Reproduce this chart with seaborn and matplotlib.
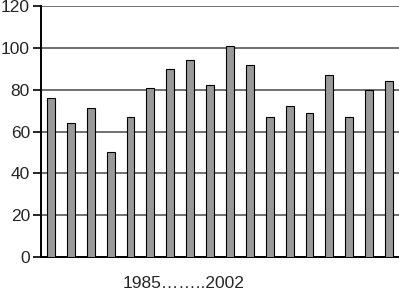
import matplotlib
matplotlib.use("Agg")
import matplotlib.pyplot as plt
import seaborn as sns
import pandas as pd

years = list(range(1985, 2003))
values = [76, 64, 71, 50, 67, 81, 90, 94, 82, 101, 92, 67, 72, 69, 87, 67, 80, 84]
yticks = [0, 20, 40, 60, 80, 100, 120]
xlabel_text = "1985……..2002"

sns.set_style("white")
plt.rcParams['font.family'] = ['Liberation Sans', 'DejaVu Sans']

df = pd.DataFrame({"year": years, "value": values})

fig = plt.figure(figsize=(3.99, 2.90), dpi=100)
ax = fig.add_axes([41/399, 1 - 257/290, 1 - 41/399, (257 - 6)/290])

sns.barplot(data=df, x="year", y="value", color="#999999", saturation=1,
            width=0.4, edgecolor="black", linewidth=0.8, ax=ax, zorder=3)

ax.set_ylim(0, 120)
ax.set_xlim(-0.5, len(years) - 0.5)
ax.set_yticks(yticks)
ax.set_yticklabels([str(t) for t in yticks], fontsize=12.5)
ax.set_xticks([])
ax.set_xlabel("")
ax.set_ylabel("")
ax.yaxis.grid(True, color="#707070", linewidth=1.4, zorder=0)
ax.set_axisbelow(True)
ax.tick_params(axis='y', direction='out', length=6, width=1.2, color='black', pad=2, left=True)
for s in ["top", "right"]:
    ax.spines[s].set_visible(False)
ax.spines["left"].set_color("black")
ax.spines["bottom"].set_color("black")
ax.spines["left"].set_linewidth(1.4)
ax.spines["bottom"].set_linewidth(1.4)

fig.text(123/399, 1 - 283/290, xlabel_text, fontsize=12.5, ha="left", va="center")

fig.savefig("out.png", dpi=100)
